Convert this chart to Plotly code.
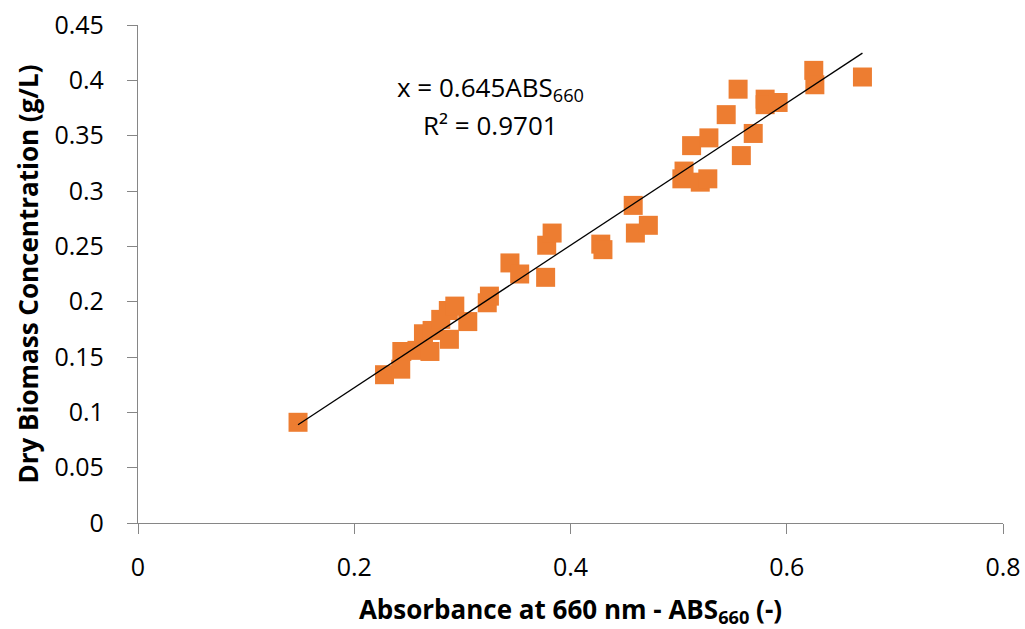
import numpy as np
import plotly.graph_objects as go

# Absorbance at 660 nm (x) and dry biomass concentration g/L (y)
abs660 = [0.148, 0.228, 0.243, 0.244, 0.258, 0.264, 0.270, 0.272, 0.280, 0.287,
          0.293, 0.288, 0.305, 0.323, 0.325, 0.344, 0.353, 0.377, 0.378, 0.383,
          0.428, 0.430, 0.458, 0.460, 0.472, 0.505, 0.503, 0.520, 0.527, 0.512,
          0.528, 0.544, 0.555, 0.558, 0.569, 0.580, 0.580, 0.592, 0.625, 0.626,
          0.670]
biomass = [0.091, 0.134, 0.139, 0.155, 0.156, 0.171, 0.155, 0.174, 0.184, 0.192,
           0.196, 0.166, 0.182, 0.199, 0.205, 0.235, 0.225, 0.222, 0.251, 0.262,
           0.252, 0.247, 0.287, 0.262, 0.269, 0.318, 0.311, 0.308, 0.311, 0.341,
           0.348, 0.369, 0.392, 0.332, 0.352, 0.383, 0.378, 0.380, 0.409, 0.396,
           0.403]

x_ticks = [0, 0.2, 0.4, 0.6, 0.8]
x_tick_labels = ["0", "0.2", "0.4", "0.6", "0.8"]
y_ticks = [0, 0.05, 0.1, 0.15, 0.2, 0.25, 0.3, 0.35, 0.4, 0.45]
y_tick_labels = ["0", "0.05", "0.1", "0.15", "0.2", "0.25", "0.3", "0.35", "0.4", "0.45"]

equation_text = "x = 0.645ABS<sub>660</sub>"
r2_text = "R² = 0.9701"

xa = np.array(abs660)
ya = np.array(biomass)
slope, intercept = np.polyfit(xa, ya, 1)
line_x = np.array([xa.min(), xa.max()])
line_y = slope * line_x + intercept

FONT = "Open Sans"
AXIS_COLOR = "#868686"

fig = go.Figure()
fig.add_trace(go.Scatter(
    x=abs660, y=biomass, mode="markers",
    marker=dict(symbol="square", size=19, color="#ED7D31"),
    showlegend=False, hoverinfo="skip"))
fig.add_trace(go.Scatter(
    x=line_x, y=line_y, mode="lines",
    line=dict(color="black", width=1.3),
    showlegend=False, hoverinfo="skip"))

fig.add_annotation(x=0.3256, y=0.393, xref="x", yref="y", text=equation_text,
                   showarrow=False, font=dict(family=FONT, size=26, color="black"))
fig.add_annotation(x=0.3256, y=0.3596, xref="x", yref="y", text=r2_text,
                   showarrow=False, font=dict(family=FONT, size=26, color="black"))

fig.update_layout(
    width=1025, height=629,
    margin=dict(l=138, r=22, t=25, b=106),
    plot_bgcolor="white", paper_bgcolor="white",
    font=dict(family=FONT, color="black"),
    xaxis=dict(
        range=[0, 0.8], tickvals=x_ticks, ticktext=x_tick_labels,
        automargin=False,
        showgrid=False, zeroline=False, showline=True, linecolor=AXIS_COLOR,
        linewidth=1.3, ticks="outside", ticklen=10, tickcolor=AXIS_COLOR,
        ticklabelstandoff=12,
        tickfont=dict(family=FONT, size=25, color="black"),
        title=dict(text="<b>Absorbance at 660 nm - ABS<sub>660</sub> (-)</b>",
                   font=dict(family=FONT, size=26, color="black"), standoff=20),
    ),
    yaxis=dict(
        range=[0, 0.45], tickvals=y_ticks, ticktext=y_tick_labels,
        automargin=False,
        showgrid=False, zeroline=False, showline=True, linecolor=AXIS_COLOR,
        linewidth=1.3, ticks="outside", ticklen=10, tickcolor=AXIS_COLOR,
        ticklabelstandoff=18,
        tickfont=dict(family=FONT, size=25, color="black"),
        title=dict(text="<b>Dry Biomass Concentration (g/L)</b>",
                   font=dict(family=FONT, size=26, color="black"), standoff=8),
    ),
)

fig.write_html("out.html")
